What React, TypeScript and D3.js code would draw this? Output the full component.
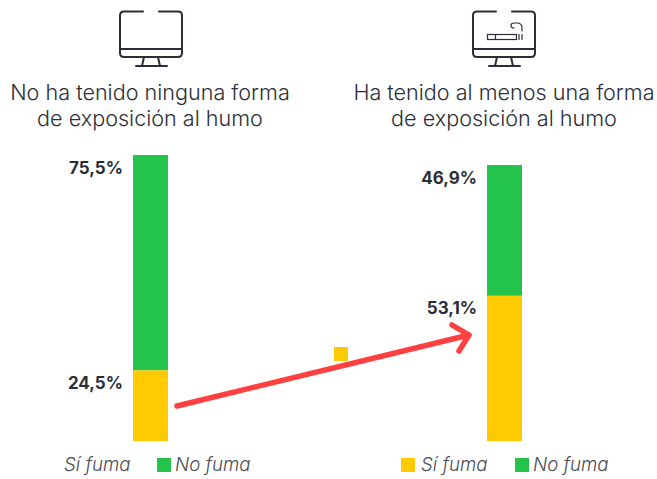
import React from 'react';
import * as d3 from 'd3';

const groups = ['sin', 'con'];
// heights as measured on the bars; the printed labels differ slightly
const siFuma = [24.7, 52.6];
const noFuma = [75.3, 47.4];
const siLabels = ['24,5%', '53,1%'];
const noLabels = ['75,5%', '46,9%'];
const titles = [
  ['No ha tenido ninguna forma', 'de exposición al humo'],
  ['Ha tenido al menos una forma', 'de exposición al humo'],
];

const YELLOW = '#ffcb00';
const GREEN = '#24c44c';
const INK = '#2b2e38';
const FONT = 'Inter, sans-serif';

const x = d3.scalePoint<string>().domain(groups).range([150.5, 504.5]);
const barW = 35;
// each bar has its own height in the picture
const yScales = [
  d3.scaleLinear().domain([0, 100]).range([441, 155]),
  d3.scaleLinear().domain([0, 100]).range([441, 165]),
];

function Monitor({ cx, smoke }: { cx: number; smoke?: boolean }) {
  const line = d3.line();
  return (
    <g transform={`translate(${cx},0)`} fill="none" stroke={INK} strokeWidth={2} strokeLinecap="round">
      <path d="M-8,11.5 H-27 Q-31,11.5 -31,15.5 V53 Q-31,57 -27,57 H27 Q31,57 31,53 V15.5 Q31,11.5 27,11.5 H8" />
      <path d={line([[-31, 49], [31, 49]]) || ''} />
      <path d={line([[-7, 57], [-9, 66]]) || ''} />
      <path d={line([[7, 57], [9, 66]]) || ''} />
      <path d={line([[-15, 66], [16, 66]]) || ''} />
      {smoke && (
        <g strokeWidth={1.2}>
          <rect x={-16.5} y={34.5} width={29} height={5} />
          <path d={line([[-8.5, 34.5], [-8.5, 39.5]]) || ''} />
          <path d={line([[15, 34.5], [15, 39.5]]) || ''} />
          <path d={line([[18, 34.5], [18, 39.5]]) || ''} />
          <path d="M18,31 V28 Q18,23 13,23 H10 Q7,23 7,25.5 Q7,28 10,28" />
        </g>
      )}
    </g>
  );
}

export default function App() {
  return (
    <svg
      width={657}
      height={479}
      style={{ position: 'absolute', left: 0, top: 0, fontFamily: FONT }}
    >
      <rect width={657} height={479} fill="#fff" />
      <Monitor cx={151} />
      <Monitor cx={504} smoke />

      {titles.map((t, i) =>
        t.map((s, j) => (
          <text
            key={s + i}
            x={i === 0 ? 150 : 504}
            y={100 + j * 26}
            textAnchor="middle"
            fontSize={21.6}
            fontWeight={300}
            fill={INK}
          >
            {s}
          </text>
        ))
      )}

      {groups.map((g, i) => {
        const y = yScales[i];
        const left = (x(g) as number) - barW / 2;
        return (
          <g key={g}>
            <rect x={left} width={barW} y={y(100)} height={y(0) - y(noFuma[i])} fill={GREEN} />
            <rect x={left} width={barW} y={y(siFuma[i])} height={y(0) - y(siFuma[i])} fill={YELLOW} />
            <text x={left - 10} y={y(100) + 18.5} textAnchor="end" fontSize={17} fontWeight={700} fill={INK}>
              {noLabels[i]}
            </text>
            <text x={left - 10} y={y(siFuma[i]) + 18.5} textAnchor="end" fontSize={17} fontWeight={700} fill={INK}>
              {siLabels[i]}
            </text>
          </g>
        );
      })}

      <g stroke="#ff4040" strokeWidth={5.5} strokeLinecap="round" strokeLinejoin="round" fill="none">
        <path d="M177,406 L469,335" />
        <path d="M452,325 L469,335 L459,351" />
      </g>
      <rect x={334} y={347} width={14} height={14} fill={YELLOW} />

      <g fontSize={18.7} fontWeight={300} fontStyle="italic" fill="#4a4c55">
        <text x={64} y={471}>Sí fuma</text>
        <rect x={157} y={458} width={14} height={14} fill={GREEN} />
        <text x={175} y={471}>No fuma</text>
        <rect x={401} y={458} width={14} height={14} fill={YELLOW} />
        <text x={421} y={471}>Sí fuma</text>
        <rect x={515} y={458} width={14} height={14} fill={GREEN} />
        <text x={533} y={471}>No fuma</text>
      </g>
    </svg>
  );
}
